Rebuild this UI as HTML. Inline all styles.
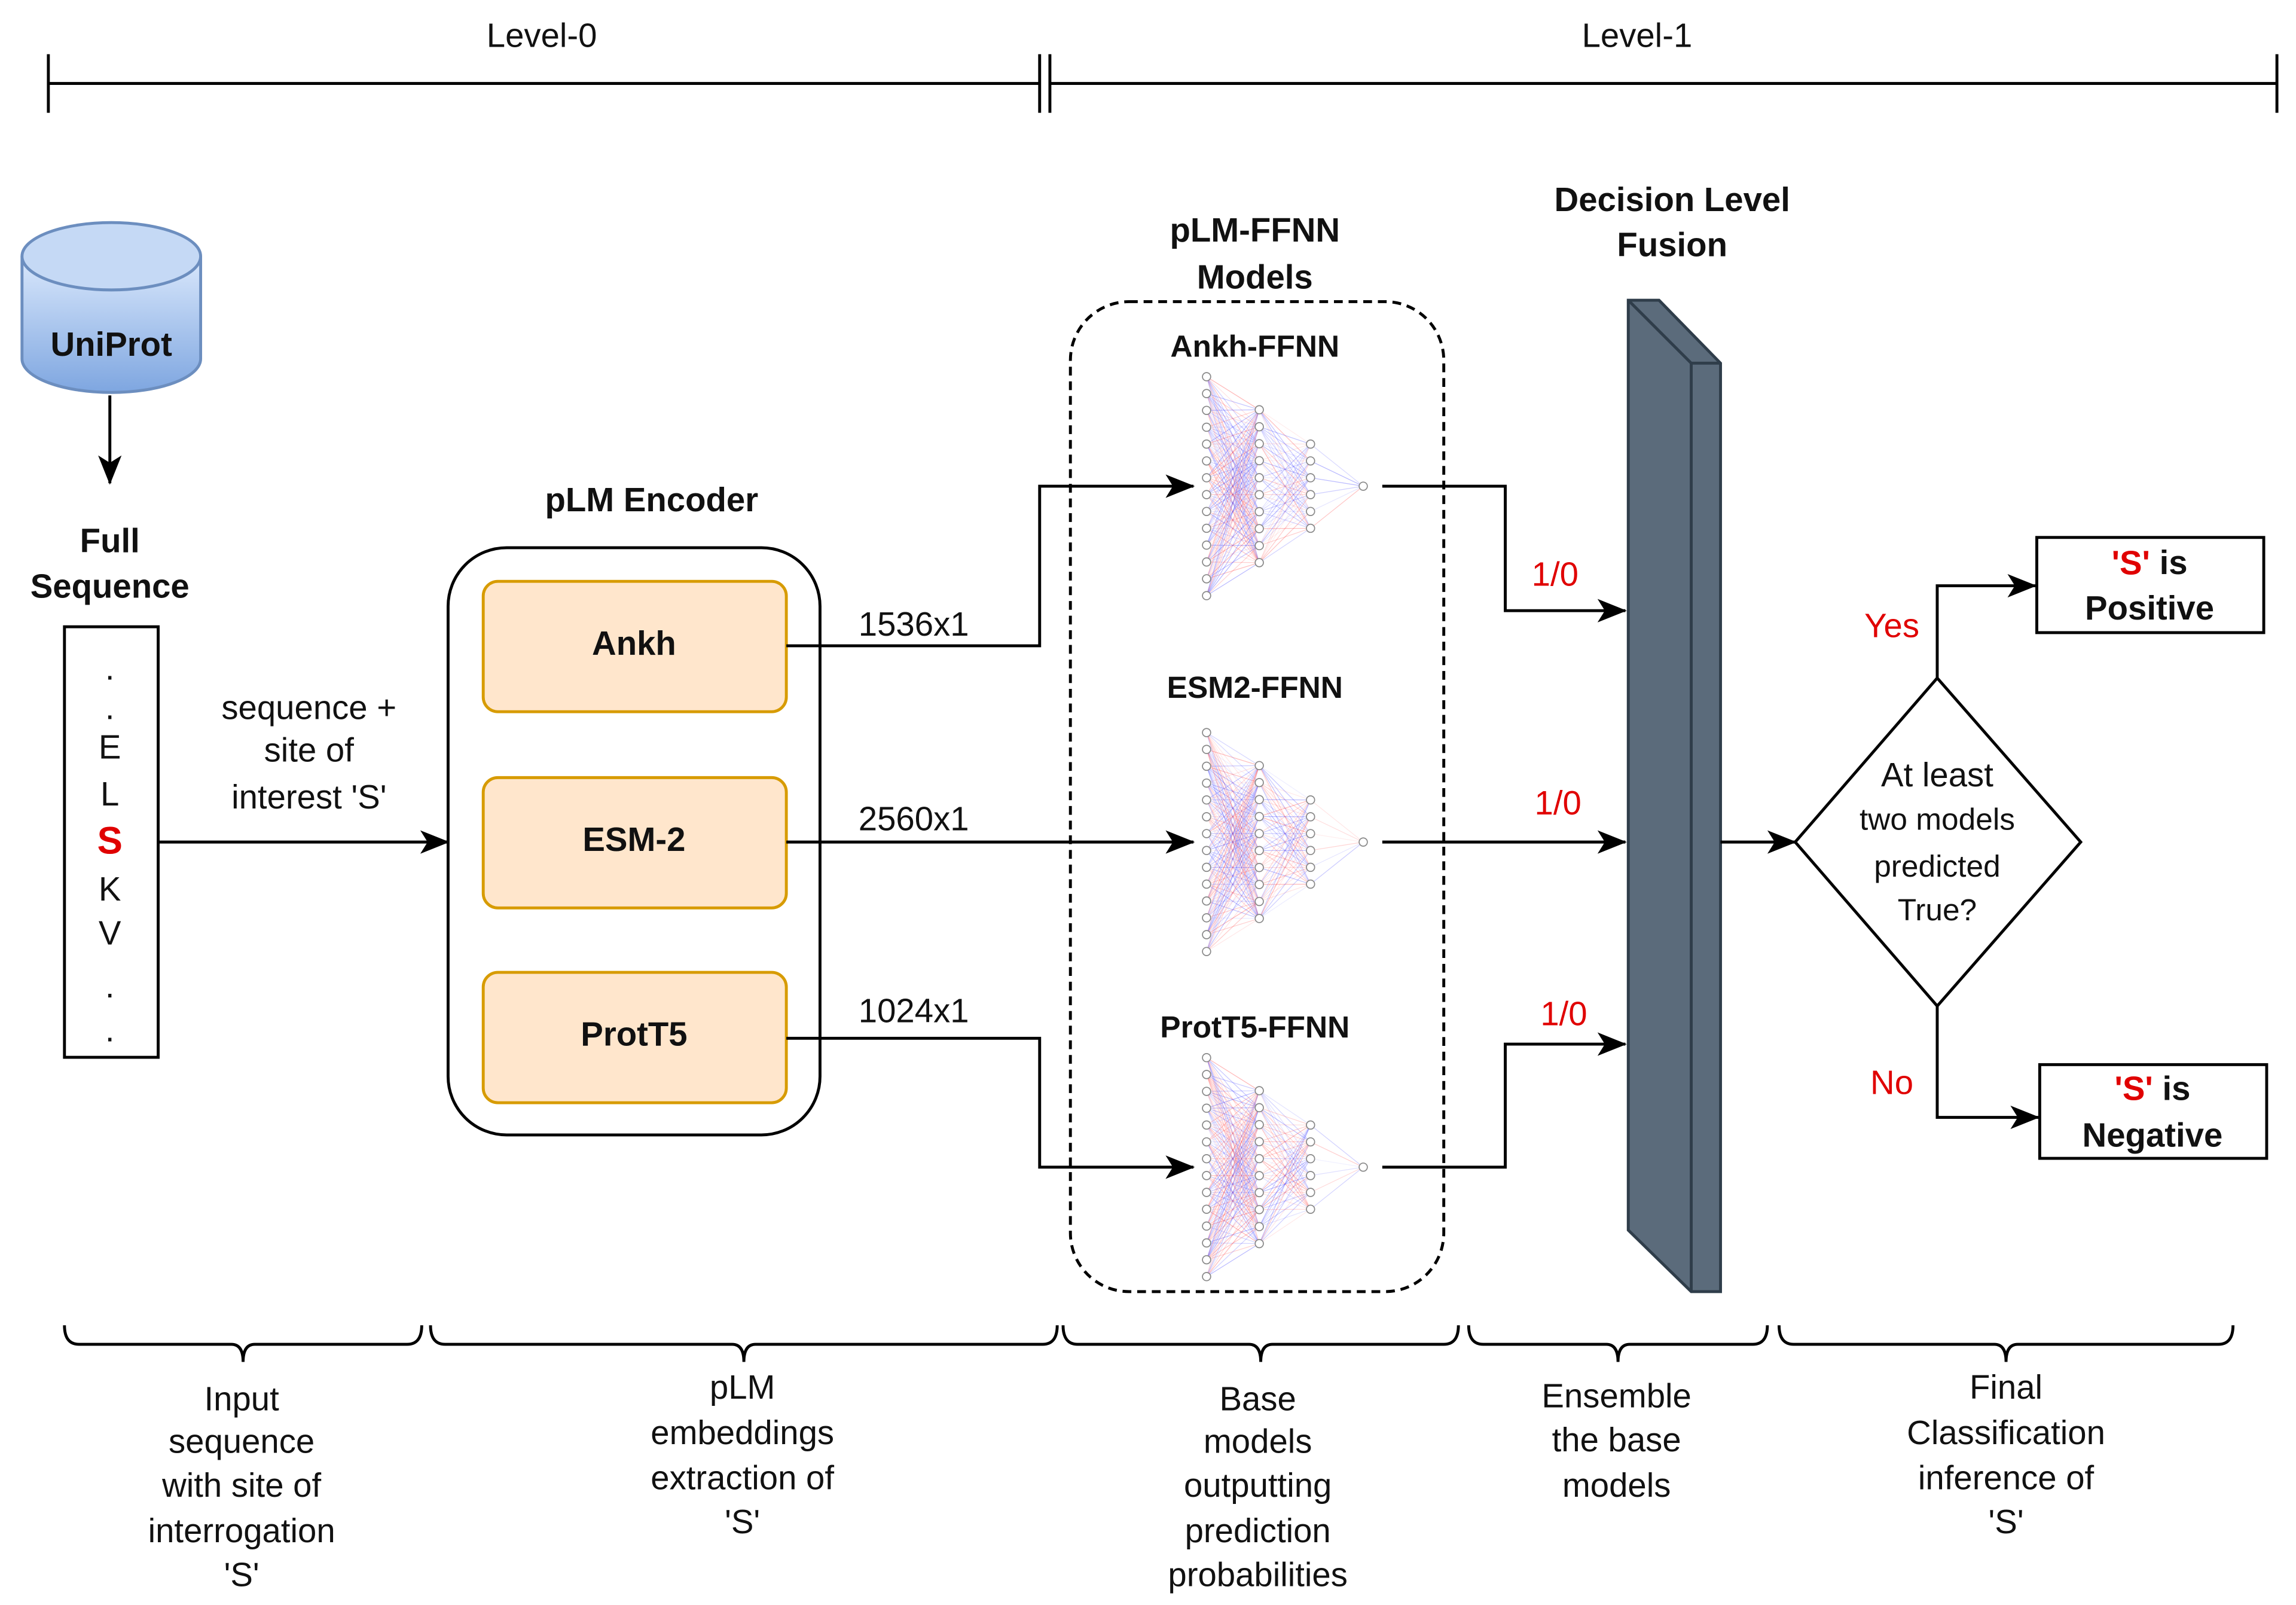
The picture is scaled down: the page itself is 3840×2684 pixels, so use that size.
<!DOCTYPE html>
<html><head><meta charset="utf-8"><style>
html,body{margin:0;padding:0;background:#fff}
svg{display:block}
text{font-family:"Liberation Sans",Arial,sans-serif;font-size:23px;fill:#111;text-anchor:middle;dominant-baseline:middle}
.b{font-weight:bold}
.r{fill:#e00000}
</style></head><body>
<svg id="s" width="3840" height="2684" viewBox="0 0 1568 1096" xmlns="http://www.w3.org/2000/svg">
<defs>
<marker id="A" markerWidth="20" markerHeight="16" refX="19" refY="8" orient="auto" markerUnits="userSpaceOnUse"><path d="M0,0 L20,8 L0,16 L5,8 z" fill="#000"/></marker>
<linearGradient id="g" x1="0" y1="0" x2="0" y2="1"><stop offset="0" stop-color="#dae8fc"/><stop offset="1" stop-color="#7ea6e0"/></linearGradient>
</defs>
<text x="370" y="26">Level-0</text><text x="1118" y="26">Level-1</text>
<g stroke="#000" stroke-width="2">
<line x1="33" y1="57" x2="710" y2="57"/><line x1="717" y1="57" x2="1555" y2="57"/>
<line x1="33" y1="37" x2="33" y2="77"/><line x1="710" y1="37" x2="710" y2="77"/><line x1="717" y1="37" x2="717" y2="77"/><line x1="1555" y1="37" x2="1555" y2="77"/>
</g>
<path d="M15,175 L15,245 A61,23 0 0 0 137,245 L137,175" fill="url(#g)" stroke="#6c8ebf" stroke-width="2"/>
<ellipse cx="76" cy="175" rx="61" ry="23" fill="#c5d9f5" stroke="#6c8ebf" stroke-width="2"/>
<text x="76" y="237" class="b">UniProt</text>
<line x1="75" y1="270" x2="75" y2="330" stroke="#000" stroke-width="2" marker-end="url(#A)"/>
<text x="75" y="371" class="b">Full</text><text x="75" y="402" class="b">Sequence</text>
<rect x="44" y="428" width="64" height="294" fill="#fff" stroke="#000" stroke-width="2"/>
<text x="75" y="458">.</text><text x="75" y="485">.</text><text x="75" y="512">E</text><text x="75" y="544">L</text>
<text x="75" y="576" class="b r" style="font-size:26px">S</text><text x="75" y="609">K</text><text x="75" y="639">V</text><text x="75" y="675">.</text><text x="75" y="705">.</text>
<line x1="108" y1="575" x2="306" y2="575" stroke="#000" stroke-width="2" marker-end="url(#A)"/>
<text x="211" y="485">sequence +</text><text x="211" y="514">site of</text><text x="211" y="546">interest 'S'</text>
<text x="445" y="343" class="b">pLM Encoder</text>
<rect x="306" y="374" width="254" height="401" rx="40" fill="#fff" stroke="#000" stroke-width="2"/>
<g fill="#ffe6cc" stroke="#d79b00" stroke-width="2">
<rect x="330" y="397" width="207" height="89" rx="10"/><rect x="330" y="531" width="207" height="89" rx="10"/><rect x="330" y="664" width="207" height="89" rx="10"/></g>
<text x="433" y="441" class="b">Ankh</text><text x="433" y="575" class="b">ESM-2</text><text x="433" y="708" class="b">ProtT5</text>
<g fill="none" stroke="#000" stroke-width="2">
<polyline points="537,441 710,441 710,332 815,332" marker-end="url(#A)"/>
<polyline points="537,575 815,575" marker-end="url(#A)"/>
<polyline points="537,709 710,709 710,797 815,797" marker-end="url(#A)"/>
</g>
<text x="624" y="428">1536x1</text><text x="624" y="561">2560x1</text><text x="624" y="692">1024x1</text>
<text x="857" y="159" class="b">pLM-FFNN</text><text x="857" y="191" class="b">Models</text>
<rect x="731" y="206" width="255" height="676" rx="40" fill="none" stroke="#000" stroke-width="2" stroke-dasharray="6,4"/>
<text x="857" y="238" class="b" style="font-size:21px">Ankh-FFNN</text><text x="857" y="471" class="b" style="font-size:21px">ESM2-FFNN</text><text x="857" y="703" class="b" style="font-size:21px">ProtT5-FFNN</text>
<g id="nn"></g>
<g fill="none" stroke="#000" stroke-width="2">
<polyline points="944,332 1028,332 1028,417 1110,417" marker-end="url(#A)"/>
<polyline points="944,575 1110,575" marker-end="url(#A)"/>
<polyline points="944,797 1028,797 1028,713 1110,713" marker-end="url(#A)"/>
</g>
<text x="1062" y="394" class="r">1/0</text><text x="1064" y="550" class="r">1/0</text><text x="1068" y="694" class="r">1/0</text>
<text x="1142" y="138" class="b">Decision Level</text><text x="1142" y="169" class="b">Fusion</text>
<polygon points="1112,205 1133,205 1175,248 1175,882 1155,882 1112,840" fill="#5b6b7b" stroke="#2f3d4a" stroke-width="2"/>
<polyline points="1112,205 1155,248 1175,248" fill="none" stroke="#2f3d4a" stroke-width="2"/>
<line x1="1155" y1="248" x2="1155" y2="882" stroke="#2f3d4a" stroke-width="2"/>
<line x1="1175" y1="575" x2="1226" y2="575" stroke="#000" stroke-width="2" marker-end="url(#A)"/>
<polygon points="1323,463 1421,575 1323,687 1226,575" fill="#fff" stroke="#000" stroke-width="2"/>
<text x="1323" y="531">At least</text><text x="1323" y="561" style="font-size:21px">two models</text><text x="1323" y="593" style="font-size:21px">predicted</text><text x="1323" y="623" style="font-size:21px">True?</text>
<g fill="none" stroke="#000" stroke-width="2">
<polyline points="1323,463 1323,400 1390,400" marker-end="url(#A)"/>
<polyline points="1323,687 1323,763 1392,763" marker-end="url(#A)"/>
</g>
<text x="1292" y="429" class="r">Yes</text><text x="1292" y="741" class="r">No</text>
<rect x="1391" y="367" width="155" height="65" fill="#fff" stroke="#000" stroke-width="2"/>
<text x="1468" y="386" class="b"><tspan class="r">'S'</tspan> is</text><text x="1468" y="417" class="b">Positive</text>
<rect x="1393" y="727" width="155" height="64" fill="#fff" stroke="#000" stroke-width="2"/>
<text x="1470" y="745" class="b"><tspan class="r">'S'</tspan> is</text><text x="1470" y="777" class="b">Negative</text>
<g id="br" fill="none" stroke="#000" stroke-width="2"></g>
<text x="165" y="957">Input</text><text x="165" y="986">sequence</text><text x="165" y="1016">with site of</text><text x="165" y="1047">interrogation</text><text x="165" y="1077">'S'</text>
<text x="507" y="949">pLM</text><text x="507" y="980">embeddings</text><text x="507" y="1011">extraction of</text><text x="507" y="1041">'S'</text>
<text x="859" y="957">Base</text><text x="859" y="986">models</text><text x="859" y="1016">outputting</text><text x="859" y="1047">prediction</text><text x="859" y="1077">probabilities</text>
<text x="1104" y="955">Ensemble</text><text x="1104" y="985">the base</text><text x="1104" y="1016">models</text>
<text x="1370" y="949">Final</text><text x="1370" y="980">Classification</text><text x="1370" y="1011">inference of</text><text x="1370" y="1041">'S'</text>
</svg>
<script>
var NS="http://www.w3.org/2000/svg";
function el(p,n,a){var e=document.createElementNS(NS,n);for(var k in a)e.setAttribute(k,a[k]);p.appendChild(e);return e;}
var nn=document.getElementById("nn");
var seed=7;function rnd(){seed=(seed*16807)%2147483647;return seed/2147483647;}
[332,575,797].forEach(function(cy){
 var L=[[824,14,11.5],[860,10,11.6],[895,6,11.5],[931,1,0]];
 var P=L.map(function(l){var a=[];for(var i=0;i<l[1];i++)a.push([l[0],cy+(i-(l[1]-1)/2)*l[2]]);return a;});
 for(var k=0;k<3;k++)P[k].forEach(function(p){P[k+1].forEach(function(q){
  var c=rnd()<0.5?"#ff4040":"#4040ff";
  el(nn,"line",{x1:p[0],y1:p[1],x2:q[0],y2:q[1],stroke:c,"stroke-width":0.5,"stroke-opacity":(0.08+rnd()*0.3).toFixed(2)});});});
 P.forEach(function(a){a.forEach(function(p){el(nn,"circle",{cx:p[0],cy:p[1],r:2.8,fill:"#fff",stroke:"#888","stroke-width":0.7});});});
});
var br=document.getElementById("br");
[[44,288],[294,722],[726,996],[1003,1207],[1215,1525]].forEach(function(s){
 var a=s[0],b=s[1],m=(a+b)/2;
 el(br,"path",{d:"M"+a+",905 Q"+a+",918 "+(a+10)+",918 L"+(m-8)+",918 Q"+m+",918 "+m+",930 Q"+m+",918 "+(m+8)+",918 L"+(b-10)+",918 Q"+b+",918 "+b+",905"});
});
</script>
</body></html>
